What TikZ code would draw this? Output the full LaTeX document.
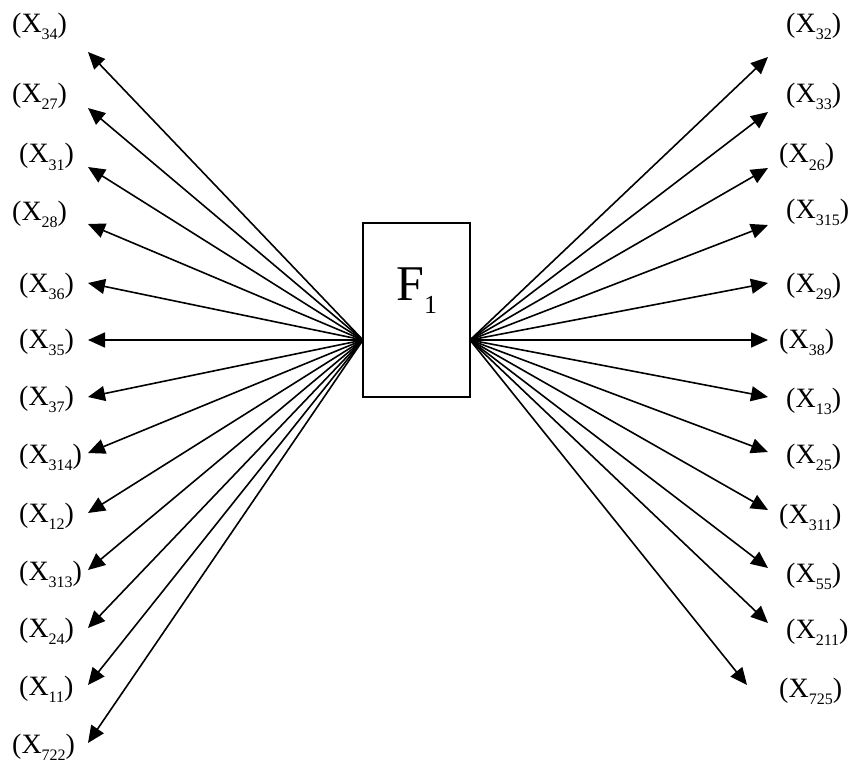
\documentclass[tikz,border=0pt]{standalone}
\usepackage{fontspec}
\setmainfont{Liberation Serif}
\usetikzlibrary{arrows.meta}
\newcommand{\xlab}[1]{(X\raisebox{-7pt}{\fontsize{16}{16}\selectfont #1})}
\begin{document}
\begin{tikzpicture}[x=1pt,y=-1pt,
  arr/.style={line width=1.6pt,-{Triangle[length=17pt,width=15pt]}},
  lab/.style={anchor=base west,inner sep=0pt,font=\fontsize{28}{32}\selectfont},
  boxst/.style={draw,line width=1.5pt,minimum width=107pt,minimum height=174pt,inner sep=0pt}]
\useasboundingbox (0,0) rectangle (854,765);
\node[boxst] (F) at (416.5,310) {};
\node[anchor=base west,inner sep=0pt,font=\fontsize{50}{54}\selectfont] (f1) at (396,300) {F\raisebox{-13pt}{\fontsize{26}{26}\selectfont 1}};
\coordinate (L) at (363,340);
\coordinate (R) at (470,340);
% left side: subscript, label x, baseline, tip y
\foreach \s/\lx/\by/\ty [count=\i] in {34/12/33/52, 27/12/103/108, 31/19/163/167, 28/12/220/224, 36/19/292/283, 35/19/348/340, 37/19/405/397, 314/19/463/453, 12/19/522/513, 313/19/580/570, 24/19/637/628, 11/19/695/685, 722/12/753/743}{
  \node[lab] (l\i) at (\lx,\by) {\xlab{\s}};
  \coordinate (lt\i) at (88,\ty);
  \draw[arr] (L) -- (lt\i);
}
% right side
\foreach \s/\lx/\by/\tx/\ty [count=\i] in {32/786/33/768/57, 33/786/103/768/112, 26/779/163/768/168, 315/786/218/768/225, 29/786/292/768/283, 38/779/348/768/340, 13/786/407/768/397, 25/786/463/768/452, 311/779/523/768/510, 55/786/582/768/568, 211/786/638/768/623, 725/779/697/747/685}{
  \node[lab] (r\i) at (\lx,\by) {\xlab{\s}};
  \coordinate (rt\i) at (\tx,\ty);
  \draw[arr] (R) -- (rt\i);
}
\end{tikzpicture}
\end{document}
